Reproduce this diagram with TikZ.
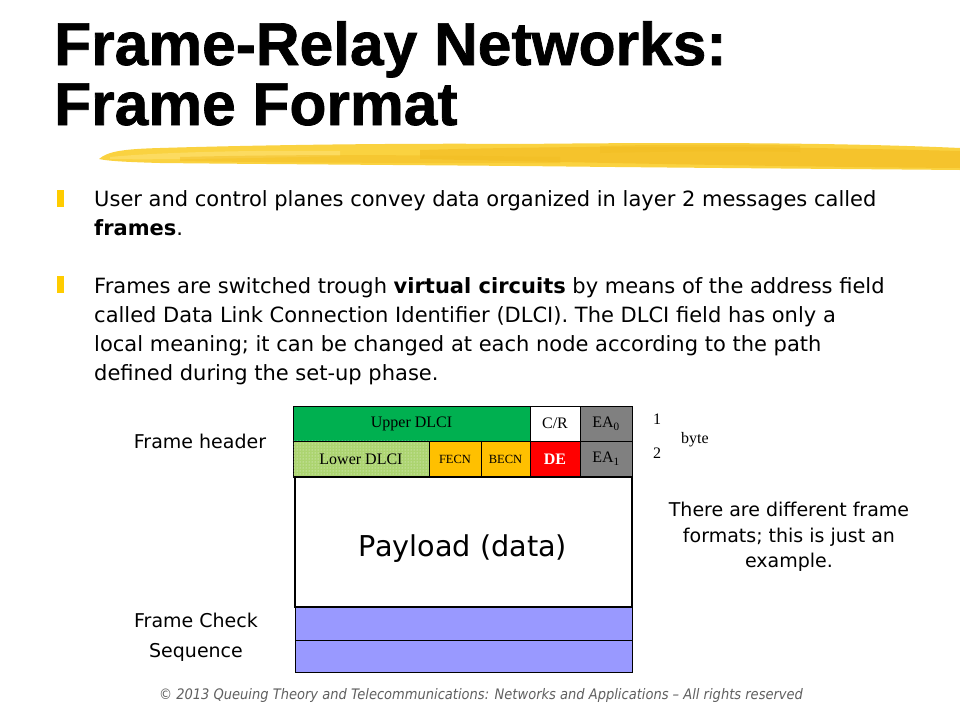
\documentclass[tikz,border=0pt]{standalone}
\usepackage{fontspec}
\setmainfont{Liberation Sans}
\newfontfamily\titlefont[FakeBold=1.2]{Liberation Sans Bold}
\newfontfamily\bodyfont{DejaVu Sans}
\newfontfamily\footfont[FakeStretch=0.9]{DejaVu Sans}
\newfontfamily\serifont{Liberation Serif}
\usetikzlibrary{patterns}
\definecolor{bulletyellow}{RGB}{255,204,0}
\definecolor{brushA}{RGB}{250,210,64}
\definecolor{brushB}{RGB}{243,190,36}
\definecolor{brushC}{RGB}{253,224,110}
\definecolor{upgreen}{RGB}{0,176,80}
\definecolor{lowgreen}{RGB}{172,212,112}
\definecolor{orangecell}{RGB}{255,192,0}
\definecolor{redcell}{RGB}{255,0,0}
\definecolor{graycell}{RGB}{128,128,128}
\definecolor{fcsblue}{RGB}{153,153,255}
\definecolor{footgray}{RGB}{96,96,96}
\tikzset{
  titletext/.style={anchor=base west, inner sep=0, font=\titlefont\fontsize{60.5}{60}\selectfont},
  bodytext/.style={anchor=base west, inner sep=0, font=\bodyfont\fontsize{21}{24}\selectfont},
  cell/.style={draw=black, line width=0.8pt, inner sep=0, font=\serifont\fontsize{16}{18}\selectfont},
  smallcell/.style={cell, font=\serifont\fontsize{12.5}{14}\selectfont},
  label/.style={inner sep=0, font=\bodyfont\fontsize{19}{23}\selectfont},
  bytelabel/.style={inner sep=0, font=\serifont\fontsize{16}{18}\selectfont},
}
\begin{document}
\begin{tikzpicture}[x=1pt,y=-1pt]
\fill[white] (0,0) rectangle (960,720);
\useasboundingbox (0,0) rectangle (960,720);

% title
\node[titletext] (t1) at (54,65) {Frame-Relay Networks:};
\node[titletext] (t2) at (54,125) {Frame Format};

% brush stroke
\fill[brushA] (99,159) .. controls (108,151) and (125,149) .. (160,148)
  .. controls (260,145) and (400,143) .. (520,144)
  .. controls (700,142) and (850,143) .. (960,148)
  -- (960,170) .. controls (850,169) and (700,168) .. (520,166)
  .. controls (400,165) and (250,164) .. (160,163)
  .. controls (125,162) and (108,161) .. (99,159) -- cycle;
\fill[brushC, opacity=0.7] (110,157) .. controls (160,152) and (260,150) .. (340,151)
  -- (340,156) .. controls (260,158) and (160,160) .. (110,159) -- cycle;
\fill[brushB, opacity=0.7] (420,150) .. controls (560,146) and (720,145) .. (960,151)
  -- (960,168) .. controls (800,167) and (600,163) .. (420,159) -- cycle;
\fill[brushB, opacity=0.5] (180,157) .. controls (300,154) and (420,155) .. (560,157)
  -- (560,163) .. controls (420,163) and (300,163) .. (180,161) -- cycle;
\fill[brushB, opacity=0.6] (600,146) .. controls (680,144) and (760,144) .. (800,146)
  -- (800,152) .. controls (760,151) and (680,151) .. (600,153) -- cycle;

% bullets
\fill[bulletyellow] (57,190) rectangle (64,207);
\fill[bulletyellow] (57,276) rectangle (64,293);

\node[bodytext] (b1) at (94,206) {User and control planes convey data organized in layer 2 messages called};
\node[bodytext] (b2) at (94,235) {\bfseries frames\mdseries.};
\node[bodytext] (b3) at (94,293) {Frames are switched trough \textbf{virtual circuits} by means of the address field};
\node[bodytext] (b4) at (94,322) {called Data Link Connection Identifier (DLCI). The DLCI field has only a};
\node[bodytext] (b5) at (94,351) {local meaning; it can be changed at each node according to the path};
\node[bodytext] (b6) at (94,380) {defined during the set-up phase.};

% frame table: header row 1
\node[cell, fill=upgreen, minimum width=237pt, minimum height=35pt] (upper) at (411.5,423.5) {Upper DLCI};
\node[cell, fill=white, minimum width=50pt, minimum height=35pt] (cr) at (555,423.5) {C/R};
\node[cell, fill=graycell, minimum width=52pt, minimum height=35pt] (ea0) at (606,423.5) {EA\textsubscript{0}};
% header row 2
\node[cell, fill=lowgreen, minimum width=136pt, minimum height=36pt] (lower) at (361,459) {};
\fill[pattern=dots, pattern color=white!85!lowgreen] (lower.south west) rectangle (lower.north east);
\node[inner sep=0, font=\serifont\fontsize{16}{18}\selectfont] (lowertxt) at (lower) {Lower DLCI};
\node[smallcell, fill=orangecell, minimum width=52pt, minimum height=36pt] (fecn) at (455,459) {FECN};
\node[smallcell, fill=orangecell, minimum width=49pt, minimum height=36pt] (becn) at (505.5,459) {BECN};
\node[cell, fill=redcell, text=white, minimum width=50pt, minimum height=36pt] (de) at (555,459) {\bfseries DE};
\node[cell, fill=graycell, minimum width=52pt, minimum height=36pt] (ea1) at (606,459) {EA\textsubscript{1}};
\draw[line width=1.5pt] (upper.south west) -- (cr.south east);

% payload
\node[draw=black, line width=1.2pt, fill=white, minimum width=337pt, minimum height=130pt, inner sep=0] (payload) at (463.5,542) {};
\node[inner sep=0, font=\bodyfont\fontsize{28.7}{32}\selectfont] (paytxt) at (463,549) {Payload (data)};
% FCS
\node[draw=black, line width=1pt, fill=fcsblue, minimum width=337pt, minimum height=33pt, inner sep=0] (fcs1) at (463.5,623.5) {};
\node[draw=black, line width=1pt, fill=fcsblue, minimum width=337pt, minimum height=32pt, inner sep=0] (fcs2) at (463.5,656) {};
\draw[line width=1.5pt] (payload.south west) -- (payload.south east);

% side labels
\node[bytelabel] (one) at (657,419) {1};
\node[bytelabel] (two) at (657,453) {2};
\node[bytelabel] (byte) at (695,440) {byte};
\node[label] (fh) at (200,441) {Frame header};
\node[label] (fc1) at (196,620) {Frame Check};
\node[label] (fc2) at (196,652) {Sequence};
\node[label, align=center, font=\bodyfont\fontsize{19}{25.5}\selectfont] (note) at (789,537) {There are different frame\\formats; this is just an\\example.};

% footer
\node[inner sep=0, text=footgray, font=\footfont\itshape\fontsize{14.5}{18}\selectfont] (foot) at (481,695)
  {© 2013 Queuing Theory and Telecommunications: Networks and Applications – All rights reserved};
\end{tikzpicture}
\end{document}
